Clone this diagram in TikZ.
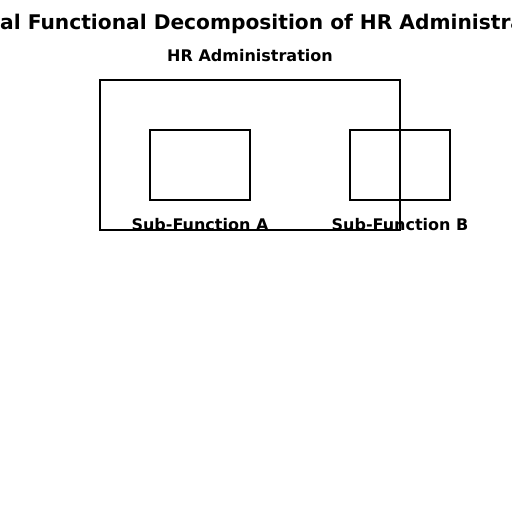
\documentclass[tikz,border=0pt]{standalone}
\usepackage{fontspec}
\setmainfont{DejaVu Sans}
\usepackage{tikz}
\usetikzlibrary{positioning}

\tikzset{
  funcbox/.style={draw, line width=1.5pt, minimum width=100pt, minimum height=70pt, inner sep=0pt},
  labeltext/.style={font=\bfseries\fontsize{16}{19}\selectfont, anchor=base, inner sep=0pt}
}

\begin{document}
\begin{tikzpicture}[x=1pt, y=-1pt]
        \useasboundingbox (0, 0) rectangle (512, 512);
        \clip (0, 0) rectangle (512, 512);
        \node[font=\bfseries\fontsize{20.2}{24}\selectfont, anchor=base west, inner sep=0pt] (title) at (0, 29.5) {al Functional Decomposition of HR Administra};

        \node[draw, line width=1.5pt, minimum width=300pt, minimum height=150pt, inner sep=0pt] (hr) at (250, 155) {};
        \node[labeltext] (hrlabel) at (250, 61) {HR Administration};

        \node[funcbox] (subA) at (200, 165) {};
        \node[funcbox] (subB) at (400, 165) {};
        \node[labeltext] (subAlabel) at (200, 230.5) {Sub-Function A};
        \node[labeltext] (subBlabel) at (400, 230.5) {Sub-Function B};
    \end{tikzpicture}
\end{document}
